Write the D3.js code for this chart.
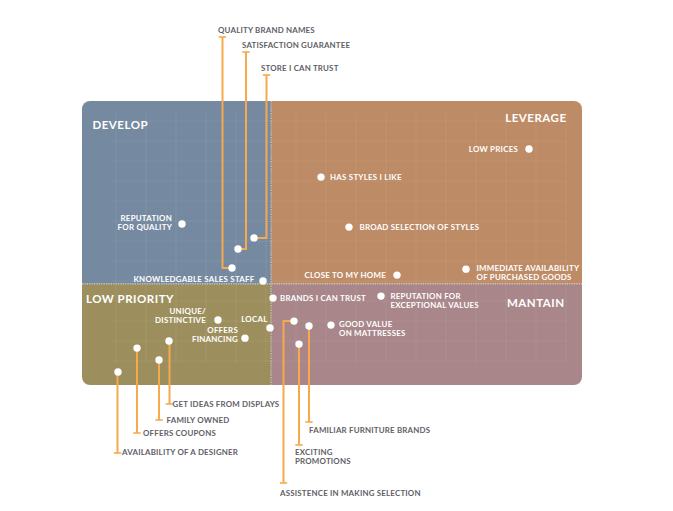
<!DOCTYPE html>
<html>
<head>
<meta charset="utf-8">
<script src="https://cdn.jsdelivr.net/npm/d3@7/dist/d3.min.js"></script>
<style>
  html, body { margin: 0; padding: 0; background: #ffffff; }
  svg { display: block; }
  text { font-family: Lato, "Open Sans", sans-serif; font-weight: 700; }
</style>
</head>
<body>
<svg id="chart" width="673" height="511"></svg>
<script>
// ---------------- DATA ----------------
const attributes = [
  "LOW PRICES", "HAS STYLES I LIKE", "BROAD SELECTION OF STYLES", "CLOSE TO MY HOME",
  "IMMEDIATE AVAILABILITY OF PURCHASED GOODS", "REPUTATION FOR QUALITY",
  "SATISFACTION GUARANTEE", "STORE I CAN TRUST", "QUALITY BRAND NAMES",
  "KNOWLEDGABLE SALES STAFF", "BRANDS I CAN TRUST", "REPUTATION FOR EXCEPTIONAL VALUES",
  "GOOD VALUE ON MATTRESSES", "LOCAL", "ASSISTENCE IN MAKING SELECTION",
  "FAMILIAR FURNITURE BRANDS", "EXCITING PROMOTIONS", "UNIQUE/ DISTINCTIVE",
  "OFFERS FINANCING", "GET IDEAS FROM DISPLAYS", "OFFERS COUPONS", "FAMILY OWNED",
  "AVAILABILITY OF A DESIGNER"
];
// horizontal position (0-100)
const xValues = [89.4, 47.8, 53.4, 63.0, 76.8, 20.0, 31.2, 34.4, 30.0, 36.2, 38.2, 59.8,
                 49.8, 37.6, 42.4, 45.4, 43.4, 27.2, 32.6, 17.4, 11.0, 15.4, 7.2];
// vertical position (0-100)
const yValues = [83.1, 73.2, 55.6, 38.7, 40.8, 56.7, 47.9, 51.8, 41.2, 36.6, 30.6, 31.3,
                 21.1, 20.1, 22.5, 20.8, 14.4, 22.9, 16.5, 15.5, 13.0, 8.8, 4.6];
const quadrantNames = ["DEVELOP", "LEVERAGE", "LOW PRIORITY", "MANTAIN"];
const xSplit = 37.8;   // quadrant divider on x
const ySplit = 35.6;   // quadrant divider on y

// ---------------- LAYOUT ----------------
const svg = d3.select("#chart");
const x = d3.scaleLinear().domain([0, 100]).range([82, 582]);
const y = d3.scaleLinear().domain([0, 100]).range([385, 101]);

const colors = { DEVELOP: "#7589a0", LEVERAGE: "#bd8b65", "LOW PRIORITY": "#9d8f5d", MANTAIN: "#a8868a" };
const orange = "#f6aa4c";
const R = 8;
const FS = 7.9;

// clip for rounded panel
const defs = svg.append("defs");
defs.append("clipPath").attr("id", "panel")
  .append("rect")
  .attr("x", x(0)).attr("y", y(100))
  .attr("width", x(100) - x(0)).attr("height", y(0) - y(100))
  .attr("rx", R).attr("ry", R);

const g = svg.append("g").attr("clip-path", "url(#panel)");
const quads = [
  { name: quadrantNames[0], x0: 0, x1: xSplit, y0: ySplit, y1: 100 },
  { name: quadrantNames[1], x0: xSplit, x1: 100, y0: ySplit, y1: 100 },
  { name: quadrantNames[2], x0: 0, x1: xSplit, y0: 0, y1: ySplit },
  { name: quadrantNames[3], x0: xSplit, x1: 100, y0: 0, y1: ySplit }
];
g.selectAll("rect.q").data(quads).join("rect")
  .attr("x", d => x(d.x0)).attr("y", d => y(d.y1))
  .attr("width", d => x(d.x1) - x(d.x0)).attr("height", d => y(d.y0) - y(d.y1))
  .attr("fill", d => colors[d.name]);

// faint grid
const gx = d3.range(6.8, 97, 6);
const gy = d3.range(92.9, 8, -7.04);
g.selectAll("line.gv").data(gx).join("line")
  .attr("x1", d => x(d)).attr("x2", d => x(d))
  .attr("y1", y(96)).attr("y2", y(8))
  .attr("stroke", "#ffffff").attr("stroke-opacity", 0.07).attr("stroke-width", 1);
g.selectAll("line.gh").data(gy).join("line")
  .attr("x1", x(6)).attr("x2", x(97))
  .attr("y1", d => y(d)).attr("y2", d => y(d))
  .attr("stroke", "#ffffff").attr("stroke-opacity", 0.07).attr("stroke-width", 1);

// dotted dividers
g.append("line")
  .attr("x1", x(xSplit)).attr("x2", x(xSplit)).attr("y1", y(100)).attr("y2", y(0))
  .attr("stroke", "#dcdcdc").attr("stroke-width", 1.2).attr("stroke-dasharray", "1.2,1.2").attr("opacity", 0.8);
g.append("line")
  .attr("x1", x(0)).attr("x2", x(100)).attr("y1", y(ySplit)).attr("y2", y(ySplit))
  .attr("stroke", "#dcdcdc").attr("stroke-width", 1.2).attr("stroke-dasharray", "1.2,1.2").attr("opacity", 0.8);

// quadrant titles
const titlePos = [
  { t: quadrantNames[0], x: 92.5, y: 124, a: "start" },
  { t: quadrantNames[1], x: 566.5, y: 117, a: "end" },
  { t: quadrantNames[2], x: 86, y: 298, a: "start" },
  { t: quadrantNames[3], x: 564.5, y: 302, a: "end" }
];
svg.selectAll("text.title").data(titlePos).join("text")
  .attr("x", d => d.x).attr("y", d => d.y)
  .attr("text-anchor", d => d.a).attr("dominant-baseline", "central")
  .attr("fill", "#ffffff").attr("font-size", 11.5).attr("letter-spacing", 0.5)
  .text(d => d.t);

// ---------------- CALLOUTS (leader lines) ----------------
const callouts = [
  { i: 8,  lx: 222.5, cap: 37,  tx: 218,   ty: [30] },
  { i: 6,  lx: 246,   cap: 52,  tx: 242,   ty: [45] },
  { i: 7,  lx: 266.5, cap: 75,  tx: 261,   ty: [68] },
  { i: 22, lx: 117.5, cap: 453, tx: 122,   ty: [452] },
  { i: 20, lx: 137,   cap: 433, tx: 143,   ty: [433] },
  { i: 21, lx: 159,   cap: 420, tx: 166.5, ty: [420] },
  { i: 19, lx: 169.5, cap: 404, tx: 172.5, ty: [404] },
  { i: 14, lx: 283.5, cap: 483, tx: 280,   ty: [493] },
  { i: 16, lx: 299,   cap: 445, tx: 295,   ty: [452, 461], lines: ["EXCITING", "PROMOTIONS"] },
  { i: 15, lx: 309,   cap: 422, tx: 309,   ty: [430] }
];
const cg = svg.append("g");
callouts.forEach(c => {
  const px = x(xValues[c.i]), py = y(yValues[c.i]);
  const path = d3.path();
  path.moveTo(px, py);
  path.lineTo(c.lx, py);
  path.lineTo(c.lx, c.cap);
  cg.append("path").attr("d", path.toString())
    .attr("fill", "none").attr("stroke", orange).attr("stroke-width", 2);
  cg.append("line")
    .attr("x1", c.lx - 3.7).attr("x2", c.lx + 3.7).attr("y1", c.cap).attr("y2", c.cap)
    .attr("stroke", orange).attr("stroke-width", 1.6);
  const lines = c.lines || [attributes[c.i]];
  lines.forEach((ln, k) => {
    cg.append("text").attr("x", c.tx).attr("y", c.ty[k])
      .attr("dominant-baseline", "central").attr("text-anchor", "start")
      .attr("fill", "#5f6066").attr("font-size", FS).attr("letter-spacing", 0.2)
      .text(ln);
  });
});

// ---------------- POINTS ----------------
svg.append("g").selectAll("circle").data(d3.range(attributes.length)).join("circle")
  .attr("cx", i => x(xValues[i])).attr("cy", i => y(yValues[i]))
  .attr("r", 3.7).attr("fill", "#ffffff");

// inside labels: [index, anchor, dx, dy of first line, lines]
const inLabels = [
  [0, "end", -11, 0, ["LOW PRICES"]],
  [1, "start", 9, 0, ["HAS STYLES I LIKE"]],
  [2, "start", 10.5, 0, ["BROAD SELECTION OF STYLES"]],
  [3, "end", -11, 0, ["CLOSE TO MY HOME"]],
  [4, "start", 10.5, -1, ["IMMEDIATE AVAILABILITY", "OF PURCHASED GOODS"]],
  [5, "end", -10, -6, ["REPUTATION", "FOR QUALITY"]],
  [9, "end", -8.5, -2.5, ["KNOWLEDGABLE SALES STAFF"]],
  [10, "start", 7, 0, ["BRANDS I CAN TRUST"]],
  [11, "start", 9.5, 0, ["REPUTATION FOR", "EXCEPTIONAL VALUES"]],
  [12, "start", 8, -1, ["GOOD VALUE", "ON MATTRESSES"]],
  [13, "end", -2.5, -9, ["LOCAL"]],
  [17, "end", -12, -8.5, ["UNIQUE/", "DISTINCTIVE"]],
  [18, "end", -7, -8.5, ["OFFERS", "FINANCING"]]
];
const lg = svg.append("g");
inLabels.forEach(([i, a, dx, dy, lines]) => {
  lines.forEach((ln, k) => {
    lg.append("text")
      .attr("x", x(xValues[i]) + dx).attr("y", y(yValues[i]) + dy + k * 9)
      .attr("dominant-baseline", "central").attr("text-anchor", a)
      .attr("fill", "#ffffff").attr("font-size", FS).attr("letter-spacing", 0.25)
      .text(ln);
  });
});
</script>
</body>
</html>
